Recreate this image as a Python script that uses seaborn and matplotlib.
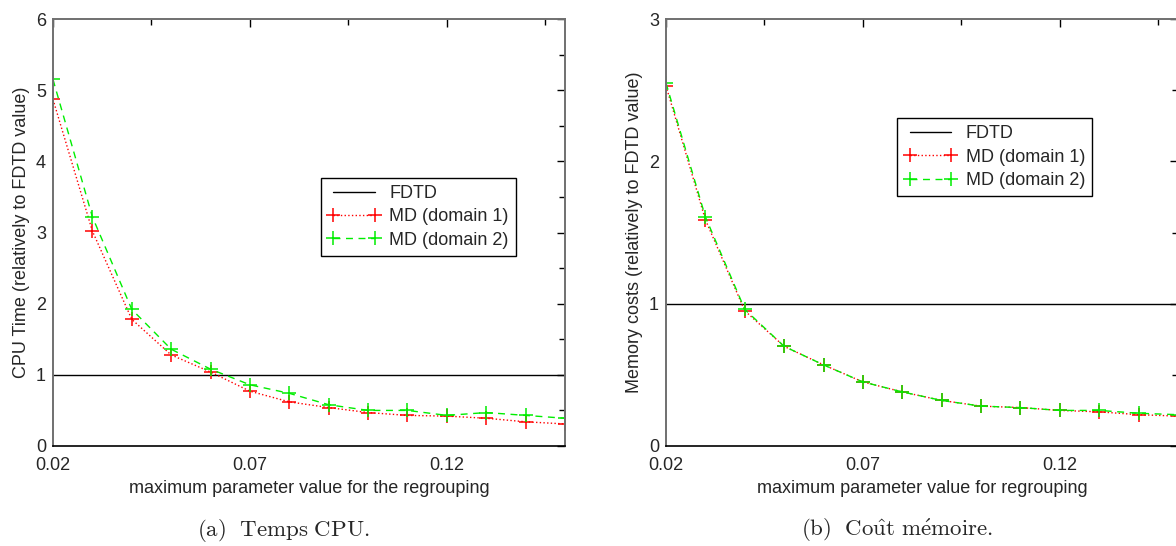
import numpy as np
import pandas as pd
import matplotlib
matplotlib.use("Agg")
import matplotlib.pyplot as plt
from matplotlib.ticker import MultipleLocator, FixedLocator
import seaborn as sns

# data
x_vals = [0.02, 0.03, 0.04, 0.05, 0.06, 0.07, 0.08, 0.09, 0.10, 0.11, 0.12, 0.13, 0.14, 0.15]
cpu_md1 = [4.87, 3.02, 1.78, 1.28, 1.04, 0.77, 0.62, 0.54, 0.47, 0.43, 0.42, 0.39, 0.34, 0.31]
cpu_md2 = [5.15, 3.22, 1.92, 1.36, 1.08, 0.86, 0.74, 0.58, 0.50, 0.50, 0.43, 0.47, 0.43, 0.39]
mem_md1 = [2.53, 1.59, 0.95, 0.70, 0.57, 0.45, 0.38, 0.32, 0.28, 0.27, 0.25, 0.24, 0.22, 0.21]
mem_md2 = [2.55, 1.61, 0.96, 0.70, 0.57, 0.45, 0.38, 0.32, 0.28, 0.27, 0.25, 0.25, 0.23, 0.22]
fdtd_level = 1.0

xtick_vals = [0.02, 0.07, 0.12]
xtick_labels = ["0.02", "0.07", "0.12"]

sns.set_style("white")
plt.rcParams['font.family'] = ['Liberation Sans', 'DejaVu Sans']
plt.rcParams['mathtext.fontset'] = 'cm'

fig = plt.figure(figsize=(11.76, 5.46), dpi=100)
ax1 = fig.add_axes([53 / 1176, 100 / 546, 512 / 1176, 427 / 546])
ax2 = fig.add_axes([666 / 1176, 100 / 546, 512 / 1176, 427 / 546])

panels = [
    (ax1, cpu_md1, cpu_md2, 6, "CPU Time (relatively to FDTD value)",
     "maximum parameter value for the regrouping", (0.523, 0.628)),
    (ax2, mem_md1, mem_md2, 3, "Memory costs (relatively to FDTD value)",
     "maximum parameter value for regrouping", (0.451, 0.768)),
]

for ax, md1, md2, ymax, ylab, xlab, leg_pos in panels:
    df = pd.DataFrame({"x": x_vals, "md1": md1, "md2": md2})
    ax.axhline(fdtd_level, color="black", lw=1, label="FDTD")
    sns.lineplot(data=df, x="x", y="md1", ax=ax, color="#ff0000", linestyle=":",
                 lw=1, marker="+", markersize=10, markeredgewidth=1.1,
                 markeredgecolor="#ff0000", label="MD (domain 1)")
    sns.lineplot(data=df, x="x", y="md2", ax=ax, color="#00ee00", linestyle=(0, (5, 4)),
                 lw=1, marker="+", markersize=10, markeredgewidth=1.1,
                 markeredgecolor="#00ee00", label="MD (domain 2)")

    ax.set_xlim(0.02, 0.15)
    ax.set_ylim(0, ymax)
    ax.xaxis.set_major_locator(FixedLocator(xtick_vals))
    ax.set_xticklabels(xtick_labels)
    ax.xaxis.set_minor_locator(FixedLocator([0.045, 0.095, 0.145]))
    ax.yaxis.set_major_locator(MultipleLocator(1))
    ax.yaxis.set_minor_locator(MultipleLocator(0.5))
    ax.tick_params(which="both", direction="in", top=True, right=True,
                   labelsize=13, color="black")
    ax.tick_params(axis="x", which="both", pad=8)
    ax.tick_params(axis="y", which="both", pad=5)
    ax.tick_params(which="major", length=6, width=1)
    ax.tick_params(which="minor", length=4, width=1)
    ax.set_xlabel(xlab, fontsize=13, labelpad=4)
    ax.set_ylabel(ylab, fontsize=13, labelpad=4)

    for side in ["left", "top", "right"]:
        ax.spines[side].set_color("#707070")
        ax.spines[side].set_linewidth(1.4)
    ax.spines["bottom"].set_color("black")
    ax.spines["bottom"].set_linewidth(1.2)

    leg = ax.legend(loc="upper left", bbox_to_anchor=leg_pos, borderaxespad=0,
                    fontsize=13, numpoints=2, handlelength=2.9, handletextpad=0.5,
                    labelspacing=0.35, fancybox=False, framealpha=1,
                    edgecolor="black", borderpad=0.4)
    leg.get_frame().set_linewidth(1)

fig.text(283 / 1176, 1 - 530 / 546, r"$\mathrm{(a)\ \ Temps\ CPU.}$", ha="center",
         va="center", fontsize=16.5)
fig.text(897 / 1176, 1 - 530 / 546, r"$\mathrm{(b)\ \ Co\hat{u}t\ m\acute{e}moire.}$",
         ha="center", va="center", fontsize=16.5)

fig.savefig("out.png", dpi=100)
